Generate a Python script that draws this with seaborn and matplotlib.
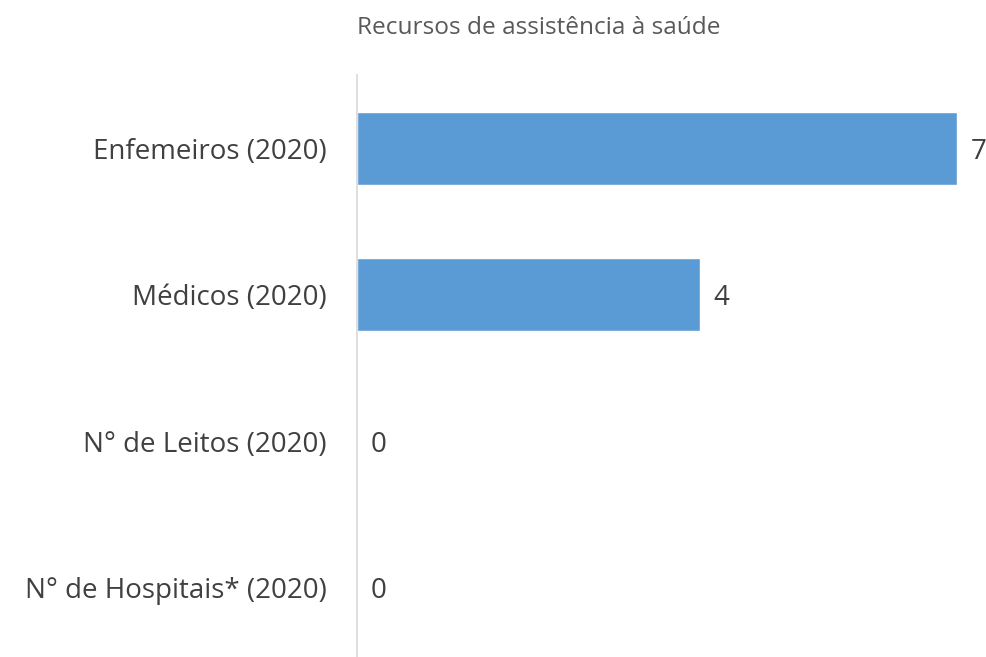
import matplotlib
matplotlib.use("Agg")
import pandas as pd
import seaborn as sns
from matplotlib import pyplot as plt

categorias = ["Enfemeiros (2020)", "Médicos (2020)", "N° de Leitos (2020)", "N° de Hospitais* (2020)"]
valores = [7, 4, 0, 0]
titulo = "Recursos de assistência à saúde"

df = pd.DataFrame({"categoria": categorias, "valor": valores})

sns.set_style("white")
plt.rcParams["font.family"] = ["Open Sans", "DejaVu Sans"]

fig = plt.figure(figsize=(9.86, 6.57), dpi=100)
ax = fig.add_axes([357 / 986, -4 / 657, 629 / 986, 586 / 657])

sns.barplot(data=df, y="categoria", x="valor", orient="h", color="#5B9BD5",
            saturation=1, width=0.5, ax=ax)

ax.set_xlim(0, 7.34)
ax.set_ylim(3.5, -0.5)
ax.set_xlabel("")
ax.set_ylabel("")
ax.set_xticks([])
for s in ["top", "right", "bottom"]:
    ax.spines[s].set_visible(False)
ax.spines["left"].set_color("#D9D9D9")
ax.spines["left"].set_linewidth(1.2)
ax.tick_params(axis="y", length=0, pad=22, labelsize=20, labelcolor="#404040")

# the reference crops the "7" at the right edge, so it is clipped here as well
for i, v in enumerate(valores):
    ax.annotate(str(v), xy=(v, i), xytext=(10, -2.5), textcoords="offset points",
                va="center", ha="left", fontsize=20, color="#404040",
                annotation_clip=False)

fig.text(539 / 986, 1 - 28 / 657, titulo, ha="center", va="center",
         fontsize=17.6, color="#595959")

fig.savefig("out.png", dpi=100)
